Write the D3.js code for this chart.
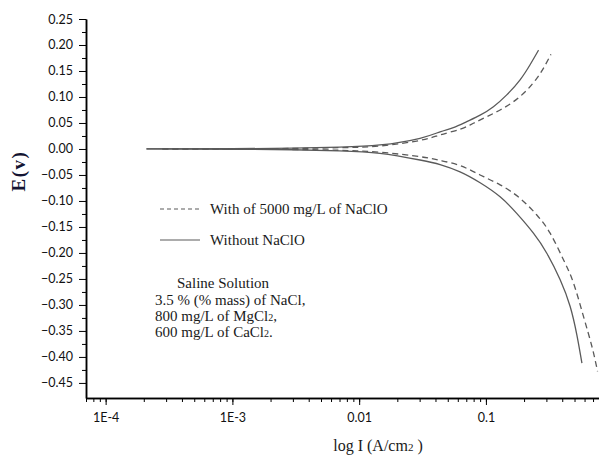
<!DOCTYPE html>
<html>
<head>
<meta charset="utf-8">
<script src="https://cdn.jsdelivr.net/npm/d3@7"></script>
<style>
body { margin: 0; background: #fff; }
svg { display: block; font-family: "Liberation Serif", "Times New Roman", serif; }
.axis path, .axis line { stroke: #000; }
.axis path { stroke-width: 1.5; }
.axis text { font-family: Lato, "Liberation Sans", sans-serif; font-size: 12.5px; fill: #111; }
.curve { fill: none; stroke: #5a5a5a; stroke-width: 1.3; }
</style>
</head>
<body>
<script>
'use strict';

// [I (A/cm2), E (V)]
var withoutAnodic = [[2.1e-4, 0], [1e-3, 0.0005], [3e-3, 0.0015], [7e-3, 0.0035], [0.0146, 0.0077], [0.0302, 0.0206],
    [0.0435, 0.033], [0.0553, 0.041], [0.0706, 0.0525], [0.09, 0.065], [0.1146, 0.0813], [0.146, 0.104],
    [0.186, 0.133], [0.223, 0.162], [0.26, 0.19]];
var withoutCathodic = [[2.1e-4, 0], [1e-3, -0.0005], [3e-3, -0.0015], [7e-3, -0.0035], [0.0146, -0.0083], [0.0302, -0.0212],
    [0.0435, -0.030], [0.0625, -0.044], [0.09, -0.065], [0.1294, -0.092], [0.175, -0.124], [0.237, -0.162],
    [0.303, -0.201], [0.386, -0.252], [0.462, -0.303], [0.522, -0.358], [0.572, -0.412]];
var withAnodic = [[2.8e-4, 0], [1e-3, 0.0005], [3e-3, 0.001], [7e-3, 0.0025], [0.0146, 0.0058], [0.0302, 0.0165],
    [0.0435, 0.027], [0.0625, 0.038], [0.0796, 0.0494], [0.1017, 0.062], [0.1294, 0.075], [0.165, 0.091],
    [0.21, 0.113], [0.252, 0.136], [0.284, 0.155], [0.326, 0.182]];
var withCathodic = [[2.8e-4, 0], [1e-3, -0.0005], [3e-3, -0.001], [7e-3, -0.0025], [0.0146, -0.0063], [0.0302, -0.0148],
    [0.0435, -0.022], [0.0625, -0.032], [0.09, -0.05], [0.1294, -0.069], [0.186, -0.095], [0.252, -0.127],
    [0.321, -0.162], [0.409, -0.213], [0.491, -0.258], [0.589, -0.3225], [0.686, -0.38], [0.76, -0.428]];

var xMajorTicks = [1e-4, 1e-3, 0.01, 0.1];
var xTickLabels = ["1E-4", "1E-3", "0.01", "0.1"];
var yMajorTicks = [0.25, 0.20, 0.15, 0.10, 0.05, 0.00, -0.05, -0.10, -0.15, -0.20, -0.25, -0.30, -0.35, -0.40, -0.45];

var legendLabels = ["With of 5000 mg/L of NaClO", "Without NaClO"];

var width = 599, height = 457;

var svg = d3.select("body").append("svg")
    .attr("width", width)
    .attr("height", height);

var x = d3.scaleLog().domain([7e-5, 0.78]).range([86, 599]);
var y = d3.scaleLinear().domain([-0.479, 0.25]).range([398, 19]);

svg.append("clipPath").attr("id", "plot")
    .append("rect").attr("x", 86).attr("y", 19).attr("width", 513).attr("height", 379);

// minor ticks first
svg.append("g")
    .attr("class", "axis")
    .attr("transform", "translate(0,398)")
    .call(d3.axisBottom(x).tickValues(x.ticks()).tickSize(4).tickSizeOuter(0).tickFormat(""));

svg.append("g")
    .attr("class", "axis")
    .attr("transform", "translate(0,398)")
    .call(d3.axisBottom(x).tickValues(xMajorTicks).tickSize(7).tickSizeOuter(0).tickPadding(8)
        .tickFormat(function(d, i) { return xTickLabels[i]; }));

var yMinor = yMajorTicks.slice(1).map(function(d) { return d + 0.025; });
svg.append("g")
    .attr("class", "axis")
    .attr("transform", "translate(86,0)")
    .call(d3.axisLeft(y).tickValues(yMinor).tickSize(4).tickSizeOuter(0).tickFormat(""));

svg.append("g")
    .attr("class", "axis")
    .attr("transform", "translate(86,0)")
    .call(d3.axisLeft(y).tickValues(yMajorTicks).tickSize(7).tickSizeOuter(0).tickPadding(6).tickFormat(d3.format(".2f")));

// curves
var line = d3.line()
    .x(function(d) { return x(d[0]); })
    .y(function(d) { return y(d[1]); })
    .curve(d3.curveNatural);

var plot = svg.append("g").attr("clip-path", "url(#plot)");

[withoutAnodic, withoutCathodic].forEach(function(s) {
    plot.append("path").attr("class", "curve").attr("d", line(s));
});
[withAnodic, withCathodic].forEach(function(s) {
    plot.append("path").attr("class", "curve").attr("stroke-dasharray", "6,4").attr("d", line(s));
});

// legend
var legend = svg.append("g");
legendLabels.forEach(function(l, i) {
    var ly = 209 + i * 31;
    legend.append("line")
        .attr("x1", 160).attr("x2", 200).attr("y1", ly).attr("y2", ly)
        .attr("stroke", "#5a5a5a").attr("stroke-width", 1.2)
        .attr("stroke-dasharray", i == 0 ? "4,3" : null);
    legend.append("text")
        .attr("x", 210).attr("y", ly + 5)
        .style("font-size", "15px").style("fill", "#1a1a1a")
        .text(l);
});

// solution note
var note = svg.append("text").style("font-size", "15px").style("fill", "#1a1a1a");
note.append("tspan").attr("x", 177).attr("y", 288).text("Saline Solution");
note.append("tspan").attr("x", 155).attr("y", 305).text("3.5 % (% mass) of NaCl,");
note.append("tspan").attr("x", 155).attr("y", 321).text("800 mg/L of MgCl");
note.append("tspan").style("font-size", "10px").text("2");
note.append("tspan").text(",");
note.append("tspan").attr("x", 155).attr("y", 337).text("600 mg/L of CaCl");
note.append("tspan").style("font-size", "10px").text("2");
note.append("tspan").text(".");

// axis titles
svg.append("text")
    .attr("transform", "translate(25,171) rotate(-90)")
    .attr("text-anchor", "middle")
    .style("font-size", "19px").style("letter-spacing", "1.5px").style("fill", "#141432")
    .style("font-weight", "bold")
    .text("E(v)");

var xt = svg.append("text")
    .attr("x", 378).attr("y", 451)
    .attr("text-anchor", "middle")
    .style("font-size", "16px").style("fill", "#1a1a1a");
xt.append("tspan").text("log I (A/cm");
xt.append("tspan").style("font-size", "11px").text("2");
xt.append("tspan").text(" )");
</script>
</body>
</html>
